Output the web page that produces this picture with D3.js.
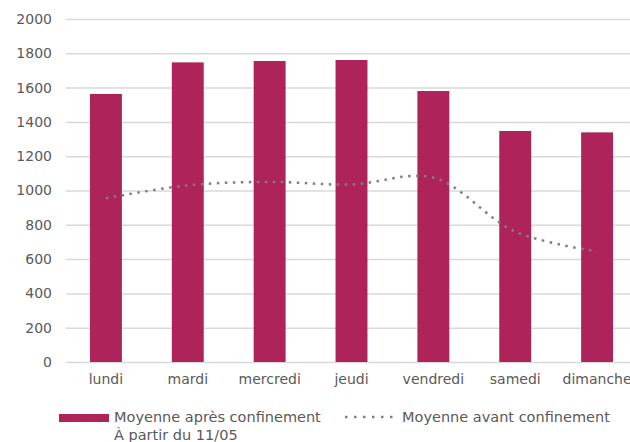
<!DOCTYPE html>
<html>
<head>
<meta charset="utf-8">
<script src="https://cdn.jsdelivr.net/npm/d3@7"></script>
<style>
  body { margin: 0; background: #fff; }
  text { font-family: "DejaVu Sans", sans-serif; fill: #595959; }
</style>
</head>
<body>
<svg width="630" height="442"></svg>
<script>
(function (d3) {
  'use strict';

  // data
  const days = ['lundi', 'mardi', 'mercredi', 'jeudi', 'vendredi', 'samedi', 'dimanche'];
  const apres = [1563, 1747, 1755, 1761, 1580, 1347, 1339];
  const avant = [955, 1030, 1050, 1035, 1075, 760, 645];
  const yTicks = [0, 200, 400, 600, 800, 1000, 1200, 1400, 1600, 1800, 2000];
  const legendLabels = ['Moyenne après confinement', 'À partir du 11/05', 'Moyenne avant confinement'];

  const barColor = '#ae2359';
  const lineColor = '#7f7f7f';

  const svg = d3.select('svg');

  const xScale = d3.scaleBand()
    .domain(days)
    .range([65, 638])
    .paddingInner(0.61)
    .paddingOuter(0.305);

  const yScale = d3.scaleLinear()
    .domain([0, 2000])
    .range([362, 19]);

  // gridlines + y labels
  const yAxis = d3.axisLeft(yScale)
    .tickValues(yTicks)
    .tickSize(-(630 - 66))
    .tickPadding(14)
    .tickFormat(d3.format('d'));

  svg.append('g')
    .attr('class', 'y-axis')
    .attr('transform', 'translate(66,0)')
    .call(yAxis)
    .call(g => g.select('.domain').remove())
    .call(g => g.selectAll('line').attr('stroke', '#d9d9d9').attr('stroke-width', 1.5))
    .call(g => g.selectAll('text')
      .attr('font-size', 14)
      .attr('fill', '#595959')
      .style('font-family', '"DejaVu Sans", sans-serif'));

  // bars
  svg.append('g')
    .selectAll('rect').data(apres)
    .enter().append('rect')
      .attr('x', (d, i) => xScale(days[i]))
      .attr('y', d => yScale(d))
      .attr('width', xScale.bandwidth())
      .attr('height', d => yScale(0) - yScale(d))
      .attr('fill', barColor);

  // x labels
  const xAxis = d3.axisBottom(xScale).tickSize(0).tickPadding(12);
  svg.append('g')
    .attr('class', 'x-axis')
    .attr('transform', `translate(0,${yScale(0)})`)
    .call(xAxis)
    .call(g => g.select('.domain').remove())
    .call(g => g.selectAll('text')
      .attr('font-size', 14)
      .attr('fill', '#595959')
      .style('font-family', '"DejaVu Sans", sans-serif'));

  // dotted smooth line
  const line = d3.line()
    .x((d, i) => xScale(days[i]) + xScale.bandwidth() / 2)
    .y(d => yScale(d))
    .curve(d3.curveCatmullRom.alpha(0.5));

  svg.append('path')
    .datum(avant)
    .attr('d', line)
    .attr('fill', 'none')
    .attr('stroke', lineColor)
    .attr('stroke-width', 2.5)
    .attr('stroke-dasharray', '2.5,5.5');

  // legend
  const legend = svg.append('g');
  legend.append('rect')
    .attr('x', 59).attr('y', 414)
    .attr('width', 50).attr('height', 8)
    .attr('fill', barColor);
  legend.append('text')
    .attr('x', 114).attr('y', 422)
    .attr('font-size', 14.5)
    .text(legendLabels[0]);
  legend.append('text')
    .attr('x', 114).attr('y', 440)
    .attr('font-size', 14.5)
    .text(legendLabels[1]);
  legend.append('line')
    .attr('x1', 345).attr('x2', 394)
    .attr('y1', 417).attr('y2', 417)
    .attr('stroke', lineColor)
    .attr('stroke-width', 2.5)
    .attr('stroke-dasharray', '2.5,6.5');
  legend.append('text')
    .attr('x', 402).attr('y', 422)
    .attr('font-size', 14.5)
    .text(legendLabels[2]);

}(d3));
</script>
</body>
</html>
